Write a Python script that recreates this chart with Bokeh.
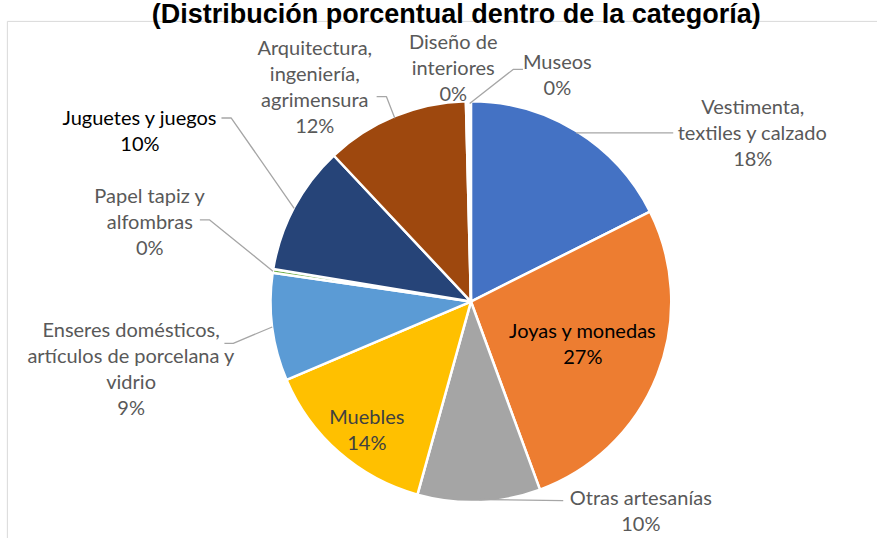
import math
from bokeh.plotting import figure
from bokeh.models import Range1d
from bokeh.core.properties import value
from bokeh.embed import file_html
from bokeh.resources import INLINE

# ---------------- data ----------------
title = "(Distribución porcentual dentro de la categoría)"
categories = [
    "Vestimenta,\ntextiles y calzado",
    "Joyas y monedas",
    "Otras artesanías",
    "Muebles",
    "Enseres domésticos,\nartículos de porcelana y\nvidrio",
    "Papel tapiz y\nalfombras",
    "Juguetes y juegos",
    "Arquitectura,\ningeniería,\nagrimensura",
    "Diseño de\ninteriores",
    "Museos",
]
shares = [17.6, 26.8, 9.9, 14.3, 8.7, 0.3, 10.4, 11.6, 0.2, 0.2]
pct_labels = ["18%", "27%", "10%", "14%", "9%", "0%", "10%", "12%", "0%", "0%"]

# ---------------- styles / layout ----------------
colors = ["#4472C4", "#ED7D31", "#A5A5A5", "#FFC000", "#5B9BD5",
          "#70AD47", "#264478", "#9E480E", "#636363", "#997300"]
label_colors = ["#595959", "#000000", "#595959", "#404040", "#595959",
                "#595959", "#000000", "#595959", "#595959", "#595959"]
# label anchor: (center x, first baseline y) in reference pixels
label_pos = [(766, 108.5), (593, 339), (652, 511), (373, 428), (133, 338),
             (152, 200), (142, 120), (320, 48), (461, 41.5), (567, 62)]
# leader lines: points after the pie-edge start (reference pixels); None = no leader
leaders = [
    [(685, None)],
    None,
    [(573, 515)],
    None,
    [(237, 353), (228, 353)],
    [(213, 226), (203, 226)],
    [(235, 121), (225, 121)],
    [(393, 99), (383, 99)],
    None,
    [(522, 71), (532, 71)],
]

REF_W, REF_H = 893, 554
W, H = 877, 538
CX, CY, R = 479, 310, 204
LINE_H = 26.7
FONT = "Lato"
FONT_SIZE = "20px"


def Y(py):
    return REF_H - py


p = figure(width=W, height=H, x_range=Range1d(0, REF_W), y_range=Range1d(0, REF_H),
           output_backend="svg", toolbar_location=None, min_border=0)
p.axis.visible = False
p.grid.visible = False
p.outline_line_color = None
p.background_fill_color = "white"
p.border_fill_color = "white"

# chart area border (only top/left are inside the picture)
p.line(x=[7, 7, 950], y=[Y(700), Y(21.5), Y(21.5)], line_color="#D9D9D9", line_width=1)

# title (partially cut at the top, as in the reference)
p.text(x=[464], y=[Y(13.5)], text=[title], text_font=value("Liberation Sans"),
       text_font_style="bold", text_font_size="27px", text_color="#000000",
       text_align="center", text_baseline="alphabetic")

# pie slices (clockwise from 12 o'clock)
total = sum(shares)
cum = 0.0
starts, ends, mids = [], [], []
for s in shares:
    f0 = cum / total
    cum += s
    f1 = cum / total
    starts.append(math.pi / 2 - f1 * 2 * math.pi)
    ends.append(math.pi / 2 - f0 * 2 * math.pi)
    mids.append((f0 + f1) / 2)

p.wedge(x=[CX] * len(shares), y=[Y(CY)] * len(shares), radius=R,
        start_angle=starts, end_angle=ends, direction="anticlock",
        fill_color=colors, line_color="white", line_width=2.5)

# leader lines from pie edge at slice mid-angle
for i, ld in enumerate(leaders):
    if ld is None:
        continue
    a = mids[i] * 2 * math.pi
    sx = CX + R * math.sin(a)
    sy = CY - R * math.cos(a)
    xs, ys = [sx], [Y(sy)]
    for (px, py) in ld:
        xs.append(px)
        ys.append(Y(py if py is not None else sy))
    p.line(x=xs, y=ys, line_color="#A6A6A6", line_width=1.3)

# labels
for i, name in enumerate(categories):
    lines = name.split("\n") + [pct_labels[i]]
    lx, ly = label_pos[i]
    p.text(x=[lx] * len(lines), y=[Y(ly + k * LINE_H) for k in range(len(lines))], text=lines,
           text_font=value(FONT), text_font_size=FONT_SIZE, text_color=label_colors[i],
           text_align="center", text_baseline="alphabetic")

open("out.html", "w").write(file_html(p, INLINE))
